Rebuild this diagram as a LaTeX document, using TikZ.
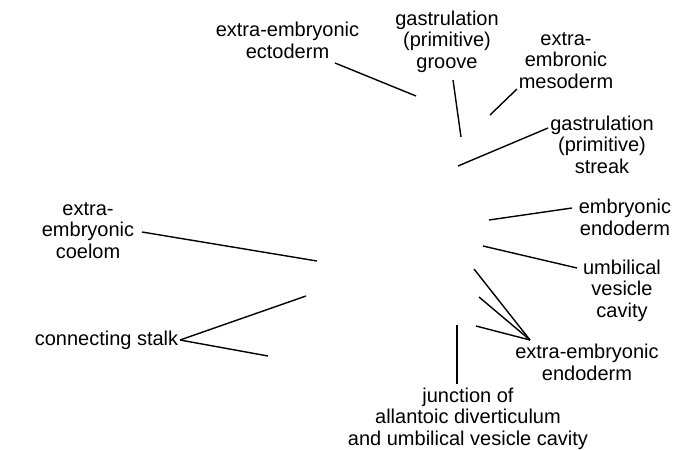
\documentclass[tikz,border=0pt]{standalone}
\usepackage{fontspec}
\setmainfont{Liberation Sans}
\usetikzlibrary{positioning}

\begin{document}
\begin{tikzpicture}[x=1pt, y=-1pt,
        part/.style={align=center, anchor=base, inner sep=0pt, font=\fontsize{20}{21.5}\selectfont},
        leader/.style={line width=1.4pt}]
            \useasboundingbox (0, 0) rectangle (675, 450);

            \node[part] (ecto) at (287.5, 58) {extra-embryonic\\ectoderm};
            \node[part] (groove) at (447, 68) {gastrulation\\(primitive)\\groove};
            \node[part] (meso) at (566, 88) {extra-\\embronic\\mesoderm};
            \node[part] (streak) at (602, 173) {gastrulation\\(primitive)\\streak};
            \node[part] (endo) at (625, 235) {embryonic\\endoderm};
            \node[part] (cavity) at (622, 317) {umbilical\\vesicle\\cavity};
            \node[part] (xendo) at (587, 380) {extra-embryonic\\endoderm};
            \node[part] (junction) at (468, 445) {junction of\\allantoic diverticulum\\and umbilical vesicle cavity};
            \node[part] (coelom) at (88, 258) {extra-\\embryonic\\coelom};
            \node[part] (stalk) at (106.5, 345) {connecting stalk};

            \coordinate (ecto-end) at (416, 96);
            \coordinate (groove-end) at (461, 137);
            \coordinate (meso-end) at (490, 115);
            \coordinate (streak-end) at (458, 166);
            \coordinate (endo-end) at (489, 220);
            \coordinate (cavity-end) at (483, 246);
            \coordinate (junction-end) at (457, 325);
            \coordinate (coelom-end) at (317, 261);

            \draw[leader] ([shift={(47.5, 5)}]ecto.base) -- (ecto-end);
            \draw[leader] ([shift={(6, 12)}]groove.base) -- (groove-end);
            \draw[leader] ([shift={(-49, 1)}]meso.base) -- (meso-end);
            \draw[leader] ([shift={(-54, -45)}]streak.base) -- (streak-end);
            \draw[leader] ([shift={(-53, -27)}]endo.base) -- (endo-end);
            \draw[leader] ([shift={(-45, -49)}]cavity.base) -- (cavity-end);
            \draw[leader] ([shift={(-11, -61)}]junction.base) -- (junction-end);
            \draw[leader] ([shift={(54, -26)}]coelom.base) -- (coelom-end);

            % three leaders meet above the label
            \foreach \p in {(474, 269), (479, 297), (476, 326)} {
                \draw[leader] ([shift={(-57, -40)}]xendo.base) -- \p;
            }
            \foreach \p in {(306, 296), (268, 356)} {
                \draw[leader] ([shift={(73.5, -5)}]stalk.base) -- \p;
            }
        \end{tikzpicture}
\end{document}
